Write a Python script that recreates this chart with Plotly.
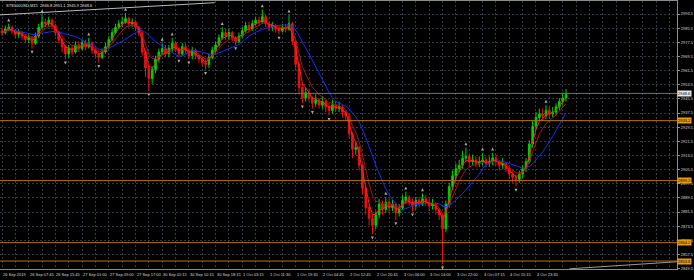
import plotly.graph_objects as go
import pandas as pd

# ---------------- data ----------------
closes = [2983, 2985, 2986, 2984, 2982, 2983, 2981, 2979, 2980, 2977,
          2981, 2986, 2989, 2988, 2990, 2987, 2983, 2979, 2975, 2971,
          2974, 2972, 2976, 2974, 2977, 2975, 2977, 2973, 2971, 2969,
          2972, 2975, 2979, 2983, 2986, 2988, 2989, 2991, 2988, 2989,
          2986, 2983, 2972, 2963, 2957, 2962, 2968, 2972, 2974, 2971,
          2974, 2977, 2974, 2971, 2975, 2973, 2970, 2973, 2970, 2968,
          2966, 2965, 2969, 2973, 2976, 2980, 2983, 2981, 2983, 2980,
          2978, 2981, 2984, 2987, 2985, 2988, 2990, 2989, 2992, 2988,
          2986, 2987, 2985, 2984, 2986, 2985, 2988, 2978, 2965, 2952,
          2946, 2949, 2946, 2943, 2945, 2942, 2944, 2941, 2939, 2942,
          2940, 2941, 2938, 2936, 2926, 2917, 2918, 2908, 2895, 2884,
          2878, 2874, 2880, 2886, 2883, 2887, 2884, 2886, 2881, 2884,
          2888, 2890, 2887, 2885, 2888, 2886, 2889, 2887, 2885, 2886,
          2883, 2880, 2872, 2886, 2896, 2902, 2906, 2908, 2912, 2913,
          2910, 2911, 2909, 2910, 2911, 2909, 2910, 2912, 2910, 2908,
          2909, 2906, 2903, 2901, 2900, 2903, 2906, 2910, 2920, 2930,
          2935, 2937, 2936, 2939, 2937, 2938, 2941, 2944, 2946, 2948]
highs = [2986, 2987, 2988, 2987, 2985, 2985, 2984, 2982, 2982, 2981,
         2983, 2988, 2993, 2991, 2992, 2991, 2988, 2984, 2980, 2976,
         2976, 2976, 2978, 2978, 2979, 2979, 2980, 2978, 2974, 2973,
         2974, 2977, 2981, 2985, 2988, 2990, 2992, 2994, 2992, 2991,
         2990, 2987, 2984, 2973, 2964, 2964, 2970, 2974, 2977, 2976,
         2976, 2980, 2978, 2975, 2977, 2977, 2974, 2975, 2974, 2971,
         2970, 2968, 2971, 2975, 2978, 2982, 2986, 2985, 2985, 2984,
         2981, 2983, 2986, 2989, 2989, 2990, 2992, 2992, 2996, 2993,
         2989, 2989, 2988, 2987, 2988, 2988, 2993, 2989, 2979, 2966,
         2954, 2952, 2951, 2947, 2948, 2946, 2947, 2945, 2943, 2945,
         2944, 2944, 2942, 2939, 2937, 2927, 2921, 2919, 2909, 2896,
         2886, 2880, 2882, 2889, 2888, 2890, 2889, 2889, 2887, 2886,
         2891, 2893, 2891, 2889, 2890, 2890, 2892, 2891, 2889, 2889,
         2887, 2884, 2881, 2888, 2898, 2905, 2909, 2911, 2916, 2918,
         2914, 2914, 2913, 2913, 2915, 2913, 2913, 2915, 2914, 2911,
         2912, 2910, 2907, 2905, 2903, 2905, 2908, 2912, 2922, 2933,
         2938, 2940, 2940, 2942, 2941, 2941, 2943, 2946, 2949, 2951]
lows = [2981, 2982, 2984, 2982, 2980, 2980, 2979, 2977, 2977, 2974,
        2976, 2980, 2985, 2986, 2986, 2985, 2981, 2977, 2972, 2968,
        2969, 2970, 2971, 2972, 2973, 2973, 2974, 2971, 2969, 2966,
        2968, 2971, 2974, 2978, 2982, 2985, 2986, 2988, 2986, 2986,
        2984, 2981, 2970, 2958, 2950, 2954, 2960, 2966, 2970, 2969,
        2969, 2972, 2972, 2969, 2970, 2971, 2968, 2968, 2968, 2966,
        2964, 2962, 2963, 2968, 2971, 2975, 2979, 2979, 2979, 2978,
        2976, 2977, 2980, 2983, 2983, 2984, 2987, 2987, 2988, 2986,
        2984, 2984, 2983, 2982, 2983, 2983, 2984, 2976, 2962, 2948,
        2943, 2944, 2944, 2940, 2941, 2940, 2940, 2938, 2936, 2937,
        2938, 2938, 2935, 2933, 2923, 2912, 2914, 2905, 2892, 2880,
        2874, 2869, 2872, 2878, 2880, 2881, 2881, 2882, 2877, 2879,
        2883, 2886, 2885, 2882, 2883, 2884, 2885, 2885, 2882, 2883,
        2880, 2877, 2852, 2870, 2884, 2894, 2900, 2904, 2906, 2910,
        2907, 2908, 2907, 2907, 2908, 2907, 2907, 2908, 2908, 2905,
        2906, 2904, 2900, 2898, 2896, 2898, 2901, 2904, 2909, 2918,
        2928, 2933, 2933, 2934, 2934, 2935, 2936, 2939, 2942, 2944]
first_open = 2984
opens = [first_open] + closes[:-1]

BAR_STEP = 4          # M15 bars per drawn candle
bar_index = [i * BAR_STEP for i in range(len(closes))]

time_labels = ["26 Sep 2019", "26 Sep 07:45", "26 Sep 15:45", "27 Sep 01:00",
               "27 Sep 09:00", "27 Sep 17:00", "30 Sep 02:15", "30 Sep 10:15",
               "30 Sep 18:15", "1 Oct 03:15", "1 Oct 11:30", "1 Oct 19:30",
               "2 Oct 04:45", "2 Oct 12:45", "2 Oct 20:45", "3 Oct 06:00",
               "3 Oct 14:00", "3 Oct 22:00", "4 Oct 07:15", "4 Oct 15:15",
               "4 Oct 23:30"]
LABEL_STEP = 32

price_ticks = [2849.5 + 8 * k for k in range(19)]

bid_price = 2948.6
level_prices = [2933.2, 2899.3, 2864.2, 2853.8]

channel_top_x = [-2.4, 255]
channel_top_y = [2993.0, 2999.9]
channel_bot_x = [680, 809]
channel_bot_y = [2849.4, 2853.4]

title_text = "STS500USD,M15  2946.8 2951.1 2945.9 2948.6"

# ---------------- derived indicator lines ----------------
s = pd.Series(closes, dtype=float)
ma_fast = s.ewm(span=3, adjust=False).mean()
ma_mid = s.ewm(span=6, adjust=False).mean()
ma_slow = s.rolling(12, min_periods=1).mean()

up_x, up_y, dn_x, dn_y = [], [], [], []
n = len(closes)
for i in range(2, n - 2):
    win_h = highs[i - 2:i + 3]
    win_l = lows[i - 2:i + 3]
    if highs[i] == max(win_h) and highs[i] > highs[i - 1] and highs[i] > highs[i - 2]:
        up_x.append(bar_index[i]); up_y.append(highs[i] + 3.0)
    if lows[i] == min(win_l) and lows[i] < lows[i - 1] and lows[i] < lows[i - 2]:
        dn_x.append(bar_index[i]); dn_y.append(lows[i] - 3.0)

# ---------------- figure ----------------
fig = go.Figure()

GRID = "#343a44"
AXIS = "#8c8c8c"
ORANGE = "#b87400"
FONT = "Liberation Sans"

fig.add_trace(go.Scatter(x=channel_top_x, y=channel_top_y, mode="lines",
                         line=dict(color="#b8b8b8", width=1), hoverinfo="skip"))
fig.add_trace(go.Scatter(x=channel_bot_x, y=channel_bot_y, mode="lines",
                         line=dict(color="#9a9a9a", width=1), hoverinfo="skip"))

fig.add_trace(go.Candlestick(
    x=bar_index, open=opens, high=highs, low=lows, close=closes,
    increasing=dict(line=dict(color="#00d000", width=1), fillcolor="#00d000"),
    decreasing=dict(line=dict(color="#f01010", width=1), fillcolor="#f01010"),
    whiskerwidth=0, hoverinfo="skip"))

fig.add_trace(go.Scatter(x=bar_index, y=ma_slow, mode="lines",
                         line=dict(color="#1030ff", width=1), hoverinfo="skip"))
fig.add_trace(go.Scatter(x=bar_index, y=ma_mid, mode="lines",
                         line=dict(color="#a01818", width=1), hoverinfo="skip"))
fig.add_trace(go.Scatter(x=bar_index, y=ma_fast, mode="lines",
                         line=dict(color="#ff2020", width=1), hoverinfo="skip"))

fig.add_trace(go.Scatter(x=up_x, y=up_y, mode="markers",
                         marker=dict(symbol="arrow-up", size=3, color="#a8a8a8"),
                         hoverinfo="skip"))
fig.add_trace(go.Scatter(x=dn_x, y=dn_y, mode="markers",
                         marker=dict(symbol="arrow-down", size=3, color="#a8a8a8"),
                         hoverinfo="skip"))

# horizontal levels and bid line
fig.add_hline(y=bid_price, line=dict(color="#707478", width=1))
for p in level_prices:
    fig.add_hline(y=p, line=dict(color=ORANGE, width=1))

annotations = []
annotations.append(dict(x=1.0, xref="paper", y=bid_price, yref="y", xanchor="left",
                        yanchor="middle", text=f"{bid_price:.1f}", showarrow=False,
                        font=dict(size=4, color="#000000", family=FONT),
                        bgcolor="#e8e8e8", borderpad=0))
for p in level_prices:
    annotations.append(dict(x=1.0, xref="paper", y=p, yref="y", xanchor="left",
                            yanchor="middle", text=f"{p:.1f}", showarrow=False,
                            font=dict(size=4, color="#000000", family=FONT),
                            bgcolor="#e89a10", borderpad=0))
annotations.append(dict(x=0.006, xref="paper", y=1.0, yref="paper", xanchor="left",
                        yanchor="top", text=title_text, showarrow=False,
                        font=dict(size=4, color="#e0e0e0", family=FONT)))

# time labels, left-aligned at their grid line as in the terminal
for k, lab in enumerate(time_labels):
    annotations.append(dict(x=k * LABEL_STEP, xref="x", y=0, yref="paper",
                            xanchor="left", yanchor="top", yshift=-1, xshift=-1,
                            text=lab, showarrow=False,
                            font=dict(size=4, color="#d8d8d8", family=FONT)))

x_gridvals = list(range(0, 810, LABEL_STEP // 2))

fig.update_layout(
    width=694, height=280,
    margin=dict(l=0, r=17, t=1, b=11, autoexpand=False),
    paper_bgcolor="#000000", plot_bgcolor="#000000",
    showlegend=False,
    annotations=annotations,
    xaxis=dict(range=[-2.4, 809], tickmode="array", tickvals=x_gridvals,
               showticklabels=False,
               showgrid=True, gridcolor=GRID, griddash="2px,2px", gridwidth=1,
               zeroline=False, showline=True, linecolor=AXIS, linewidth=1,
               mirror=True, ticks="", automargin=False,
               rangeslider=dict(visible=False), fixedrange=True),
    yaxis=dict(range=[2849.3, 3000.85], side="right", tickmode="array",
               tickvals=price_ticks, ticktext=[f"{t:.1f}" for t in price_ticks],
               tickfont=dict(size=4, color="#d8d8d8", family=FONT),
               showgrid=True, gridcolor=GRID, griddash="2px,2px", gridwidth=1,
               zeroline=False, showline=True, linecolor=AXIS, linewidth=1,
               mirror=True, ticks="outside", ticklen=2, tickcolor=AXIS,
               automargin=False, fixedrange=True),
)

fig.write_html("out.html")
